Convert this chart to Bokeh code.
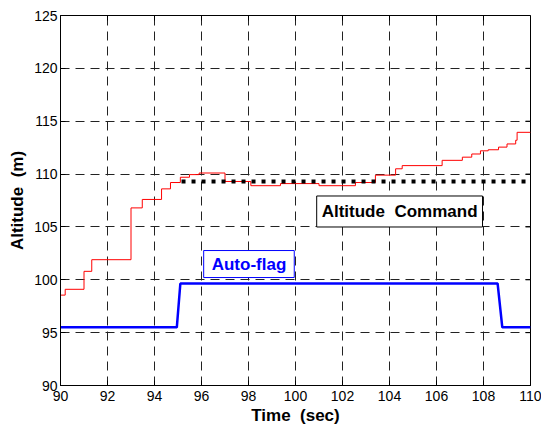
import math
from bokeh.plotting import figure
from bokeh.models import Label, FixedTicker, Range1d
from bokeh.embed import file_html
from bokeh.resources import INLINE

# ---- data ----
alt_t = [90.0, 90.2, 91.0, 91.33, 93.0, 93.48, 94.3, 94.68, 95.1, 95.49, 95.9,
         97.0, 98.1, 99.36, 101.0, 102.55, 103.4, 104.26, 104.54, 106.24, 107.1,
         107.5, 107.87, 108.2, 108.64, 109.0, 109.37, 109.43, 110.0]
alt_v = [98.55, 99.1, 100.8, 101.9, 106.8, 107.6, 108.6, 109.2, 109.7, 109.95, 110.1,
         109.3, 108.9, 109.1, 108.9, 109.2, 109.9, 110.5, 110.8, 111.3, 111.6,
         111.9, 112.2, 112.3, 112.55, 112.85, 113.2, 113.95, 113.95]
cmd_t = [95.15, 110.0]
cmd_v = [109.3, 109.3]
flag_t = [90.0, 94.95, 95.1, 108.6, 108.8, 110.0]
flag_v = [95.5, 95.5, 99.65, 99.65, 95.5, 95.5]
x_ticks = [90, 92, 94, 96, 98, 100, 102, 104, 106, 108, 110]
y_ticks = [90, 95, 100, 105, 110, 115, 120, 125]
X_MIN, X_MAX, Y_MIN, Y_MAX = 90, 110, 90, 125

FONT = "Liberation Sans"
SP = "\u00a0 "  # double space that SVG will not collapse

p = figure(width=541, height=428, output_backend="svg", toolbar_location=None,
           x_range=Range1d(X_MIN, X_MAX), y_range=Range1d(Y_MIN, Y_MAX),
           min_border_left=60, min_border_right=11, min_border_top=15, min_border_bottom=43)
p.outline_line_color = "black"
p.outline_line_width = 1
p.background_fill_color = "white"

for ax in p.axis:
    ax.major_tick_in = 5
    ax.major_tick_out = 0
    ax.minor_tick_line_color = None
    ax.axis_line_color = "black"
    ax.major_label_text_font = FONT
    ax.major_label_text_font_size = "14px"
    ax.major_label_text_color = "black"
    ax.axis_label_text_font = FONT
    ax.axis_label_text_font_style = "bold"
    ax.axis_label_text_font_size = "17px"
    ax.axis_label_text_color = "black"

p.xaxis.ticker = FixedTicker(ticks=x_ticks)
p.yaxis.ticker = FixedTicker(ticks=y_ticks)
p.xaxis.axis_label = "Time" + SP + "(sec)"
p.yaxis.axis_label = "Altitude" + SP + "(m)"
p.xaxis.major_label_standoff = 5
p.xaxis.axis_label_standoff = 2
p.yaxis.major_label_standoff = 3
p.yaxis.axis_label_standoff = 4

# inner ticks on the top and right edges (MATLAB box style)
p.scatter([X_MAX] * len(y_ticks), y_ticks, marker="dash", size=10,
          line_color="black", line_width=1)
p.scatter(x_ticks, [Y_MAX] * len(x_ticks), marker="dash", size=10, angle=math.pi / 2,
          line_color="black", line_width=1)

p.xgrid.ticker = FixedTicker(ticks=x_ticks)
p.ygrid.ticker = FixedTicker(ticks=y_ticks)
for g in (p.xgrid, p.ygrid):
    g.grid_line_color = "#222222"
    g.grid_line_dash = "9 6"
    g.grid_line_width = 1

p.step(alt_t, alt_v, mode="after", line_color="red", line_width=1)
p.line(cmd_t, cmd_v, line_color="black", line_width=4, line_dash="4 6")
p.line(flag_t, flag_v, line_color="#0000ff", line_width=2.5)

p.add_layout(Label(x=98.02, y=101.49, text="Auto-flag", text_align="center",
                   text_baseline="middle", text_font=FONT, text_font_style="bold",
                   text_font_size="17px", text_color="#0000ff",
                   border_line_color="#0000ff", border_line_width=1,
                   background_fill_color="white", padding=(8, 4)))
p.add_layout(Label(x=104.43, y=106.46, text="Altitude" + SP + "Command", text_align="center",
                   text_baseline="middle", text_font=FONT, text_font_style="bold",
                   text_font_size="17px", text_color="black",
                   border_line_color="black", border_line_width=1,
                   background_fill_color="white", padding=(5, 6)))

open("out.html", "w").write(file_html(p, INLINE))
